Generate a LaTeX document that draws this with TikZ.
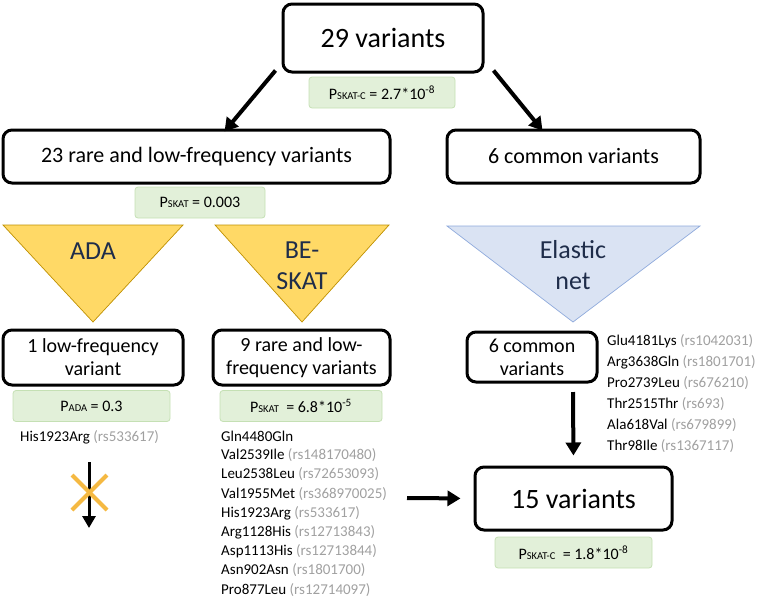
\documentclass[tikz,border=0pt]{standalone}
\usepackage{fontspec}
\setmainfont{Carlito}
\usetikzlibrary{arrows.meta}
\definecolor{pgreen}{HTML}{E2F0D9}
\definecolor{pgreenb}{HTML}{C5E0B4}
\definecolor{tgold}{HTML}{FFD966}
\definecolor{tgoldb}{HTML}{BF9000}
\definecolor{tblue}{HTML}{DAE3F3}
\definecolor{tblueb}{HTML}{8FAADC}
\definecolor{navy}{HTML}{1F2D4A}
\definecolor{rsgray}{HTML}{A0A0A0}
\definecolor{xorange}{HTML}{F5B942}
\newcommand{\sk}[1]{{\fontsize{10.5}{10.5}\selectfont #1}}
\newcommand{\rs}[1]{{\color{rsgray}(#1)}}
\begin{document}
\begin{tikzpicture}[x=1pt,y=-1pt,
 mainbox/.style={draw=black, line width=3pt, rounded corners=9pt, align=center, inner sep=0pt},
 bigtext/.style={font=\fontsize{28}{32}\selectfont},
 rowtext/.style={font=\fontsize{22}{26}\selectfont},
 midtext/.style={font=\fontsize{20}{23}\selectfont},
 pbox/.style={draw=pgreenb, fill=pgreen, line width=0.8pt, rounded corners=3pt, minimum height=31pt, font=\fontsize{16}{16}\selectfont, inner sep=0pt},
 arr/.style={line width=4pt, -{Triangle[length=13pt,width=15pt]}},
 tri/.style={line width=0.7pt},
 tritext/.style={text=navy, font=\fontsize{26}{31}\selectfont, align=center, inner sep=0pt},
 item/.style={anchor=west, inner sep=0pt, font=\fontsize{15}{17}\selectfont}
]
\useasboundingbox (0,0) rectangle (760,598);

% main boxes
\node[mainbox, bigtext, minimum width=200pt, minimum height=68pt] (top) at (383,38) {29 variants};
\node[mainbox, rowtext, minimum width=387pt, minimum height=53pt] (rare) at (196.5,156.5) {23 rare and low-frequency variants};
\node[mainbox, rowtext, minimum width=253pt, minimum height=53pt] (common) at (573.5,156.5) {6 common variants};
\node[mainbox, midtext, minimum width=180pt, minimum height=55pt] (low) at (93,357.5) {1 low-frequency\\variant};
\node[mainbox, midtext, minimum width=177pt, minimum height=55pt] (rare9) at (301.5,357.5) {9 rare and low-\\frequency variants};
\node[mainbox, midtext, minimum width=130pt, minimum height=50pt] (com6) at (532,357) {6 common\\variants};
\node[mainbox, bigtext, minimum width=197pt, minimum height=63pt] (v15) at (573.5,498.5) {15 variants};

% p-value boxes
\node[pbox, minimum width=146pt] (ptop) at (382,92.5) {P\sk{SKAT-C} = 2.7*10\textsuperscript{-8}};
\node[pbox, minimum width=130pt] (prare) at (200,202.5) {P\sk{SKAT} = 0.003};
\node[pbox, minimum width=157pt] (pada) at (91.5,406) {P\sk{ADA} = 0.3};
\node[pbox, minimum width=162pt] (pskat) at (301,406) {P\sk{SKAT}\ \ = 6.8*10\textsuperscript{-5}};
\node[pbox, minimum width=157pt] (pbot) at (573.5,552.5) {P\sk{SKAT-C}\ \ = 1.8*10\textsuperscript{-8}};

% triangles
\filldraw[tri, fill=tgold, draw=tgoldb] (3,225) -- (183,225) -- (93,322) -- cycle;
\filldraw[tri, fill=tgold, draw=tgoldb] (215,225) -- (389,225) -- (302,322) -- cycle;
\filldraw[tri, fill=tblue, draw=tblueb] (447,226) -- (700,226) -- (573,322) -- cycle;
\node[tritext] (ada) at (93,251) {ADA};
\node[tritext] (beskat) at (302,266) {BE-\\SKAT};
\node[tritext] (enet) at (573,265) {Elastic\\net};

% arrows
\draw[arr] ([xshift=-6pt,yshift=3pt]top.south west) -- ([xshift=28pt,yshift=-3pt]rare.north);
\draw[arr] ([xshift=9pt,yshift=3pt]top.south east) -- ([xshift=-31pt,yshift=-2pt]common.north);
\coordinate (c6a) at (573,392);
\draw[arr, shorten >=10pt] (c6a) -- (v15.north);
\coordinate (ha) at (407,498);
\draw[arr, shorten >=13pt] (ha) -- (v15.west);
\coordinate (xa) at (89,462);
\coordinate (xb) at (89,528);
\draw[line width=3pt, -{Triangle[length=12pt,width=13pt]}] (xa) -- (xb);
\draw[xorange, line width=4pt] (72,475) -- (107,510);
\draw[xorange, line width=4pt] (107,475) -- (72,510);

% lists
\node[item] (a1) at (20,437) {His1923Arg \rs{rs533617}};

\node[item] (b1) at (221,436.0) {Gln4480Gln};
\node[item] (b2) at (221,455.2) {Val2539Ile \rs{rs148170480}};
\node[item] (b3) at (221,474.4) {Leu2538Leu \rs{rs72653093}};
\node[item] (b4) at (221,493.6) {Val1955Met \rs{rs368970025}};
\node[item] (b5) at (221,512.8) {His1923Arg \rs{rs533617}};
\node[item] (b6) at (221,532.0) {Arg1128His \rs{rs12713843}};
\node[item] (b7) at (221,551.2) {Asp1113His \rs{rs12713844}};
\node[item] (b8) at (221,570.4) {Asn902Asn \rs{rs1801700}};
\node[item] (b9) at (221,589.6) {Pro877Leu \rs{rs12714097}};

\node[item] (c1) at (607,341) {Glu4181Lys \rs{rs1042031}};
\node[item] (c2) at (607,362) {Arg3638Gln \rs{rs1801701}};
\node[item] (c3) at (607,383) {Pro2739Leu \rs{rs676210}};
\node[item] (c4) at (607,404) {Thr2515Thr \rs{rs693}};
\node[item] (c5) at (607,425) {Ala618Val \rs{rs679899}};
\node[item] (c6) at (607,446) {Thr98Ile \rs{rs1367117}};
\end{tikzpicture}
\end{document}
